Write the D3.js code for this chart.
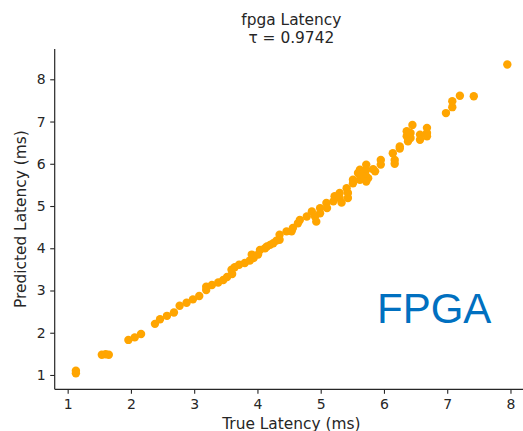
<!DOCTYPE html>
<html><head><meta charset="utf-8">
<script src="https://cdn.jsdelivr.net/npm/d3@7"></script>
<style>body{margin:0;background:#fff}svg{display:block}</style>
</head><body>
<svg id="c" width="523" height="431"></svg>
<script>
const trueLatency = [1.13,1.13,1.54,1.60,1.65,1.96,2.06,2.16,2.38,2.46,2.57,2.68,2.77,2.88,2.98,3.08,3.19,3.19,3.28,3.38,3.46,3.52,3.60,3.59,3.64,3.71,3.80,3.88,3.94,3.91,4.01,4.04,4.12,4.15,4.20,4.25,4.35,4.35,4.30,4.46,4.54,4.56,4.64,4.67,4.78,4.86,4.91,4.93,4.99,4.99,5.09,5.10,5.20,5.22,5.30,5.30,5.33,5.41,5.43,5.43,5.51,5.51,5.59,5.62,5.70,5.75,5.62,5.62,5.72,5.72,5.72,5.72,5.83,5.86,5.95,5.95,6.14,6.17,6.17,6.25,6.25,6.36,6.36,6.38,6.45,6.42,6.42,6.57,6.57,6.68,6.68,6.68,6.98,7.08,7.08,7.20,7.42,7.95];
const predLatency = [1.10,1.04,1.48,1.49,1.48,1.83,1.89,1.97,2.21,2.32,2.40,2.48,2.64,2.71,2.79,2.87,3.01,3.09,3.13,3.19,3.25,3.32,3.39,3.49,3.55,3.61,3.65,3.71,3.77,3.85,3.85,3.96,4.00,4.04,4.08,4.12,4.20,4.32,4.18,4.40,4.40,4.48,4.59,4.67,4.75,4.87,4.75,4.63,4.95,4.83,5.07,4.95,5.11,5.23,5.31,5.19,5.08,5.42,5.31,5.19,5.62,5.54,5.78,5.62,5.74,5.66,5.86,5.74,5.98,5.86,5.70,5.58,5.87,5.82,6.09,5.98,6.25,6.09,6.00,6.41,6.36,6.77,6.65,6.53,6.92,6.73,6.61,6.69,6.57,6.85,6.73,6.65,7.20,7.34,7.48,7.61,7.60,8.35];
const xTicks = [1,2,3,4,5,6,7,8];
const yTicks = [1,2,3,4,5,6,7,8];
const titleLines = ["fpga Latency", "τ = 0.9742"];
const xLabel = "True Latency (ms)";
const yLabel = "Predicted Latency (ms)";
const badge = "FPGA";

const svg = d3.select("#c");
const font = "'DejaVu Sans', sans-serif";
const L = 54.7, R = 528, T = 49, B = 389.3;
const x = d3.scaleLinear().domain([0.795, 8.277]).range([L, R]);
const y = d3.scaleLinear().domain([0.661, 8.717]).range([B, T]);

const xa = svg.append("g").attr("transform", `translate(0,${B})`)
  .call(d3.axisBottom(x).tickValues(xTicks).tickFormat(d3.format("d")).tickSize(4.5).tickPadding(5));
const ya = svg.append("g").attr("transform", `translate(${L},0)`)
  .call(d3.axisLeft(y).tickValues(yTicks).tickFormat(d3.format("d")).tickSize(4.5).tickPadding(4.5));
[xa, ya].forEach(g => {
  g.select(".domain").attr("stroke", "#262626").attr("stroke-width", 1.2);
  g.selectAll(".tick line").attr("stroke", "#262626").attr("stroke-width", 1.1);
  g.selectAll(".tick text").attr("fill", "#262626").attr("font-family", font).attr("font-size", 14);
});
// remove the outer tick end segments of the domain path
xa.select(".domain").attr("d", `M${L},0H${R}`);
ya.select(".domain").attr("d", `M0,${B}V${T}`);

svg.append("g").selectAll("circle").data(trueLatency.map((t, i) => [t, predLatency[i]]))
  .join("circle")
  .attr("cx", d => x(d[0])).attr("cy", d => y(d[1])).attr("r", 4.2)
  .attr("fill", "#ffa500");

svg.append("text").attr("x", (L + R) / 2).attr("y", 25).attr("text-anchor", "middle")
  .attr("font-family", font).attr("font-size", 15.4).attr("fill", "#262626").text(titleLines[0]);
svg.append("text").attr("x", (L + R) / 2).attr("y", 42.5).attr("text-anchor", "middle")
  .attr("font-family", font).attr("font-size", 15.4).attr("fill", "#262626").text(titleLines[1]);

svg.append("text").attr("x", (L + R) / 2).attr("y", 428.5).attr("text-anchor", "middle")
  .attr("font-family", font).attr("font-size", 15.4).attr("fill", "#262626").text(xLabel);
svg.append("text").attr("transform", `translate(25.5,${(T + B) / 2}) rotate(-90)`).attr("text-anchor", "middle")
  .attr("font-family", font).attr("font-size", 15.4).attr("fill", "#262626").text(yLabel);

svg.append("text").attr("x", 377).attr("y", 323).attr("font-family", "'Liberation Sans', Arial, sans-serif")
  .attr("font-size", 42).attr("fill", "#0070c0").text(badge);
</script>
</body></html>
